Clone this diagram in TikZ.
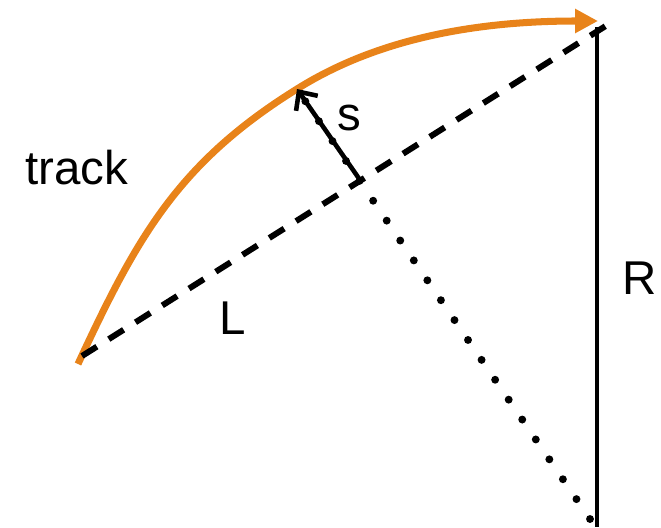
\documentclass[tikz,border=0pt]{standalone}
\usepackage{fontspec}
\setmainfont{Liberation Sans}
\usepackage{tikz}
\usetikzlibrary{arrows.meta}
\definecolor{trackorange}{HTML}{E8831A}

\begin{document}
\begin{tikzpicture}[x=0.02cm, y=-0.02cm,
  label/.style={inner sep=0pt, font=\fontsize{27}{30}\selectfont},
  trackline/.style={trackorange, line width=4pt, -{Triangle[length=13pt,width=13pt]}},
  chord/.style={line width=3.4pt, dash pattern=on 10pt off 8pt},
  radius/.style={line width=2.8pt},
  toCentre/.style={line width=4.5pt, line cap=round, dash pattern=on 0pt off 13.7pt},
  sagitta/.style={line width=2.6pt, -{Straight Barb[length=8pt,width=15pt]}}]
\useasboundingbox (0,0) rectangle (661,527);
% key points (pixel grid, y down)
\coordinate (arcA) at (78,364);
\coordinate (arcB) at (598,21);
\coordinate (chordA) at (82,356);
\coordinate (chordB) at (612,22);
\coordinate (mid) at (360,180);
\coordinate (sag) at (297,89);
\coordinate (rtop) at (597,27);
\coordinate (rbot) at (597,527);
\coordinate (centre) at (590,519);
% track
\draw[trackline] (arcA) .. controls (137,237) and (178,163) .. (sag)
  .. controls (386,33) and (493,21) .. (arcB);
% chord, radius, line to centre
\draw[chord] (chordA) -- (chordB);
\draw[radius] (rtop) -- (rbot);
\draw[toCentre] (centre) -- (sag);
\draw[sagitta] (mid) -- (sag);
% labels
\node[label] (trackLbl) at (77,168) {track};
\node[label] (sLbl) at (349,118) {s};
\node[label] (lLbl) at (233,318) {L};
\node[label] (rLbl) at (640,278) {R};
\end{tikzpicture}
\end{document}
